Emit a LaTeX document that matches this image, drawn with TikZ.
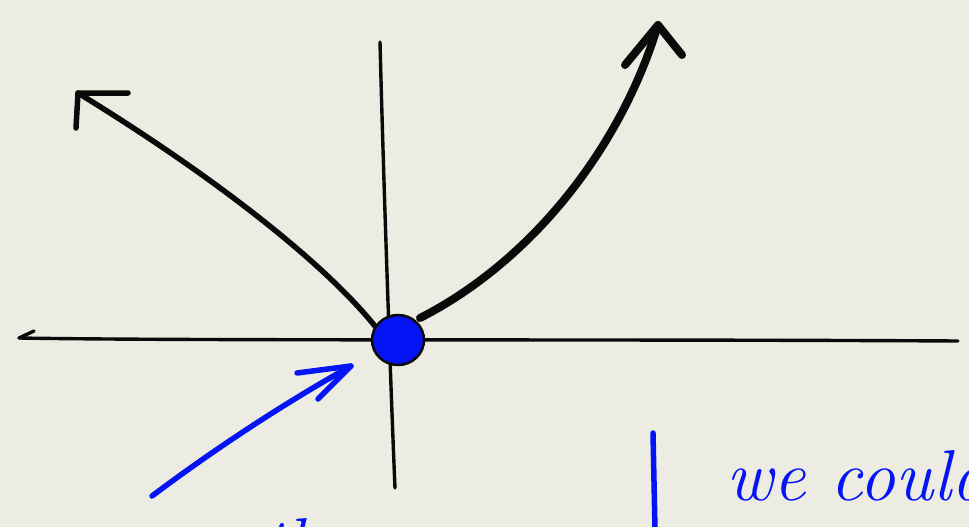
\documentclass[tikz,border=0pt]{standalone}
\usetikzlibrary{shapes.geometric}
\definecolor{paper}{RGB}{236,236,226}
\definecolor{ink}{RGB}{10,10,10}
\definecolor{pen}{RGB}{5,20,245}
\begin{document}
\begin{tikzpicture}[x=1pt,y=-1pt,
  axis/.style={draw=ink,line width=3.4pt,line cap=round,line join=round},
  curve/.style={draw=ink,line cap=round,line join=round},
  bluepen/.style={draw=pen,line cap=round,line join=round,line width=5.5pt},
  hand/.style={text=pen,font=\fontsize{72}{72}\selectfont\itshape,inner sep=0pt}]
\useasboundingbox (0,0) rectangle (969,527);
\clip (0,0) rectangle (969,527);
\fill[paper] (0,0) rectangle (969,527);
% coordinates
\coordinate (xl) at (19,338);
\coordinate (xr) at (958,341);
\coordinate (yt) at (380,42);
\coordinate (yb) at (395,488);
\coordinate (ls) at (378,330);
\coordinate (lt) at (78,93);
\coordinate (rs) at (420,318);
\coordinate (rt) at (658,25);
% axes
\draw[axis] (xl) .. controls (200,341) and (600,339) .. (xr);
\draw[axis] (xl) -- (34,331);
\draw[axis] (yt) .. controls (384,200) and (392,420) .. (yb);
% left curve
\draw[curve,line width=5.5pt] (ls) .. controls (330,268) and (220,180) .. (lt);
\draw[curve,line width=5.5pt] (76,128) -- (lt) -- (128,93);
% right curve
\draw[curve,line width=8pt] (rs) .. controls (530,262) and (620,150) .. (rt);
\draw[curve,line width=8pt] (625,65) -- (rt) -- (682,55);
% origin dot
\node[ellipse,fill=pen,draw=ink,line width=2.5pt,minimum width=52pt,minimum height=50pt,inner sep=0pt] (origin) at (398,340) {};
% blue arrow
\coordinate (bt) at (152,496);
\coordinate (bh) at (351,366);
\draw[bluepen] (bt) .. controls (220,445) and (290,400) .. (bh);
\draw[bluepen] (297,373) -- (bh) -- (318,399);
% blue vertical line
\coordinate (v1) at (653,433);
\coordinate (v2) at (655,530);
\draw[bluepen] (v1) -- (v2);
% texts
\node[hand,anchor=base west] (could) at (726,500) {we could};
\node[hand,anchor=base west] (the) at (262,568) {the};
\end{tikzpicture}
\end{document}
